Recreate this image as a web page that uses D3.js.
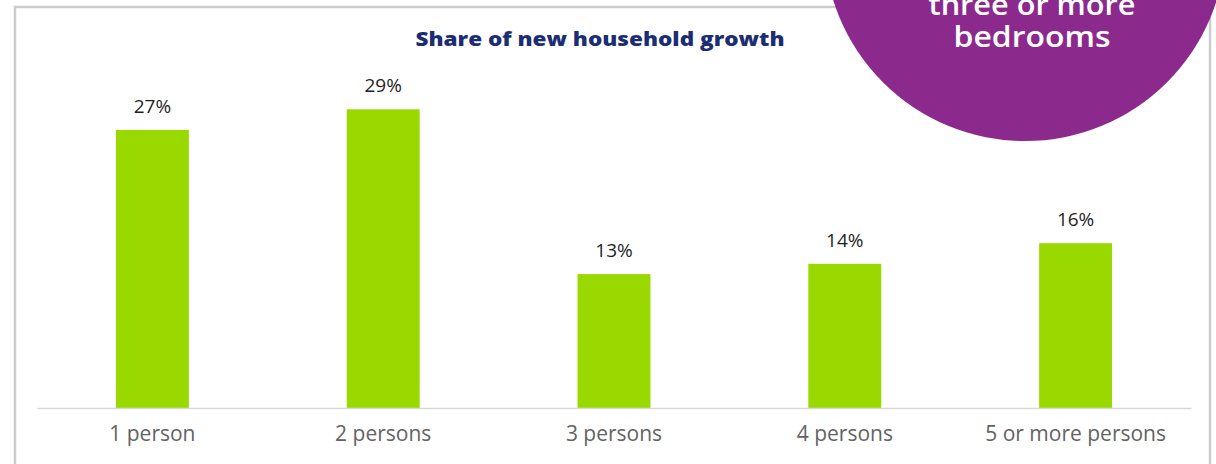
<!DOCTYPE html>
<html><head><meta charset="utf-8">
<script src="https://cdn.jsdelivr.net/npm/d3@7/dist/d3.min.js"></script>
<style>body{margin:0;background:#fff;}svg{display:block;}</style>
</head><body>
<svg id="c" width="1216" height="464"></svg>
<script>
const categories = ["1 person","2 persons","3 persons","4 persons","5 or more persons"];
const values = [27,29,13,14,16];
const valueLabels = ["27%","29%","13%","14%","16%"];
const title = "Share of new household growth";
const badgeLines = ["three or more","bedrooms"];

const FONT = "'Open Sans', 'Noto Sans', sans-serif";
const svg = d3.select("#c");
// frame
svg.append("rect").attr("x",15).attr("y",7).attr("width",1195).attr("height",470)
  .attr("fill","#fff").attr("stroke","#cccccc").attr("stroke-width",2.5);

const x = d3.scaleBand().domain(categories).range([37,1191]).paddingInner(0.684).paddingOuter(0.342);
const y = d3.scaleLinear().domain([0,30]).range([408,99]);

svg.append("g").selectAll("rect").data(values).join("rect")
  .attr("x",(d,i)=>x(categories[i])).attr("width",x.bandwidth())
  .attr("y",d=>y(d)).attr("height",d=>y(0)-y(d)).attr("fill","#99d900");

const ax = svg.append("g").attr("transform","translate(0,408)").call(d3.axisBottom(x).tickSize(0).tickPadding(0));
ax.select(".domain").attr("stroke","#d9d9d9").attr("stroke-width",1.5);
ax.selectAll("text").attr("font-family",FONT).attr("font-size",21).attr("fill","#636363")
  .attr("y",33).attr("dy",0);

svg.append("g").selectAll("text").data(values).join("text")
  .attr("x",(d,i)=>x(categories[i])+x.bandwidth()/2).attr("y",d=>y(d)-17)
  .attr("text-anchor","middle").attr("font-family",FONT)
  .attr("font-size",19).attr("fill","#1f1f1f").text((d,i)=>valueLabels[i]);

svg.append("text").attr("x",600).attr("y",46).attr("text-anchor","middle")
  .attr("font-family",FONT).attr("font-weight",800)
  .attr("font-size",20).attr("fill","#1c2d72")
  .attr("textLength",369).attr("lengthAdjust","spacingAndGlyphs").text(title);

svg.append("circle").attr("cx",1025).attr("cy",-60).attr("r",201).attr("fill","#8b2a8c");
const badgeWidths = [207,157];
svg.append("g").selectAll("text").data(badgeLines).join("text")
  .attr("x",1032).attr("y",(d,i)=>15+i*32).attr("text-anchor","middle")
  .attr("font-family",FONT).attr("font-weight",600)
  .attr("font-size",29).attr("fill","#fff")
  .attr("textLength",(d,i)=>badgeWidths[i]).attr("lengthAdjust","spacingAndGlyphs").text(d=>d);
</script>
</body></html>
